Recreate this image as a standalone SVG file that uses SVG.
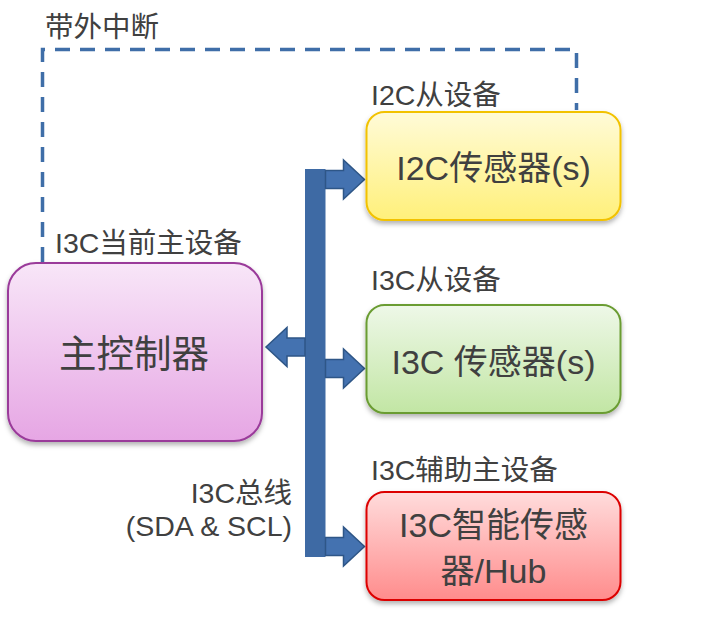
<svg xmlns="http://www.w3.org/2000/svg" width="713" height="625" viewBox="0 0 713 625">
  <style>
    .lbl { font-family: "Liberation Sans", "Noto Sans CJK SC", sans-serif; font-size: 28.5px; fill: #404040; }
    .main { font-family: "Liberation Sans", "Noto Sans CJK SC", sans-serif; font-size: 34px; fill: #404040; text-anchor: middle; }
    .box { stroke-width: 2; }
    .arrow { fill: #4472b0; stroke: #2e5687; stroke-width: 1.5; stroke-linejoin: miter; }
    .dash { fill: none; stroke: #3f6ea8; stroke-width: 3.5; stroke-dasharray: 15 10; }
  </style>
  <defs>
    <linearGradient id="gY" x1="0" y1="0" x2="0" y2="1">
      <stop offset="0" stop-color="#fffbd8"/>
      <stop offset="1" stop-color="#fff07a"/>
    </linearGradient>
    <linearGradient id="gP" x1="0" y1="0" x2="0" y2="1">
      <stop offset="0" stop-color="#f8e6f8"/>
      <stop offset="1" stop-color="#e6a6e4"/>
    </linearGradient>
    <linearGradient id="gG" x1="0" y1="0" x2="0" y2="1">
      <stop offset="0" stop-color="#eef8e8"/>
      <stop offset="1" stop-color="#c2e6a4"/>
    </linearGradient>
    <linearGradient id="gR" x1="0" y1="0" x2="0" y2="1">
      <stop offset="0" stop-color="#ffdcdc"/>
      <stop offset="1" stop-color="#ff8c8c"/>
    </linearGradient>
    <filter id="sh" x="-10%" y="-10%" width="120%" height="130%">
      <feDropShadow dx="0" dy="3" stdDeviation="2.5" flood-color="#000" flood-opacity="0.3"/>
    </filter>
    <path id="arR" d="M0,-9 H18 V-19.5 L39,0 L18,19.5 V9 H0 Z"/>
  </defs>

  <rect width="713" height="625" fill="#ffffff"/>

  <g id="connectors">
    <path id="oob" class="dash" d="M42.5,262 V49.5 H576.5 V110"/>
    <rect id="bus" x="305" y="169" width="20.5" height="388" fill="#3e6aa4"/>
    <use href="#arR" class="arrow" transform="translate(325.5,179.5)"/>
    <use href="#arR" class="arrow" transform="translate(325.5,368.5)"/>
    <use href="#arR" class="arrow" transform="translate(325.5,546.5)"/>
    <use href="#arR" class="arrow" transform="translate(305,347) scale(-1,1)"/>
  </g>

  <g id="label-oob">
    <text class="lbl" x="45" y="37">带外中断</text>
  </g>

  <g id="i2c">
    <text class="lbl" x="371" y="105">I2C从设备</text>
    <rect class="box" x="366.5" y="112" width="254" height="108" rx="18" fill="url(#gY)" stroke="#f2c200" filter="url(#sh)"/>
    <text class="main" x="493.5" y="180">I2C传感器(s)</text>
  </g>

  <g id="master">
    <text class="lbl" x="55" y="253">I3C当前主设备</text>
    <rect class="box" x="8" y="263" width="254" height="178" rx="28" fill="url(#gP)" stroke="#9a3a9a" filter="url(#sh)"/>
    <text class="main" x="134" y="367" style="font-size:37.5px">主控制器</text>
  </g>

  <g id="i3c">
    <text class="lbl" x="371" y="290">I3C从设备</text>
    <rect class="box" x="366.5" y="305" width="254" height="108" rx="18" fill="url(#gG)" stroke="#6a9c32" filter="url(#sh)"/>
    <text class="main" x="493.5" y="374">I3C 传感器(s)</text>
  </g>

  <g id="hub">
    <text class="lbl" x="371" y="480">I3C辅助主设备</text>
    <rect class="box" x="366.5" y="492" width="254" height="108" rx="18" fill="url(#gR)" stroke="#dc0000" filter="url(#sh)"/>
    <text class="main" x="493.5" y="537">I3C智能传感</text>
    <text class="main" x="493.5" y="583">器/Hub</text>
  </g>

  <g id="label-bus">
    <text class="lbl" x="292" y="503" text-anchor="end">I3C总线</text>
    <text class="lbl" x="292" y="536" text-anchor="end">(SDA &amp; SCL)</text>
  </g>
</svg>
